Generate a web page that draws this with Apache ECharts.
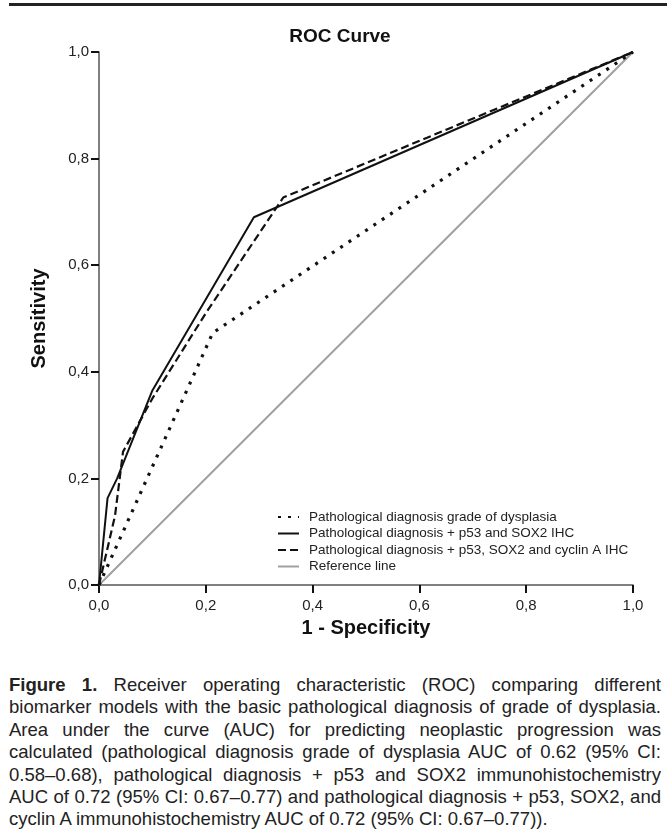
<!DOCTYPE html>
<html>
<head>
<meta charset="utf-8">
<script src="https://cdn.jsdelivr.net/npm/echarts@6/dist/echarts.min.js"></script>
<style>
  html, body { margin: 0; padding: 0; background: #fff; }
  #page { position: relative; width: 667px; height: 834px; overflow: hidden; }
  #rule { position: absolute; left: 9px; right: 0; top: 3px; height: 3px; background: #222; }
  #chart { position: absolute; left: 0; top: 0; width: 667px; height: 660px; }
  #caption {
    position: absolute; left: 9px; top: 674px; width: 652px;
    font-family: 'Liberation Sans', Arial, sans-serif; font-size: 16px; line-height: 22.4px; color: #222;
  }
  #caption div { white-space: nowrap; text-align: left; text-align-last: left; }
  #caption.fitted div { text-align: justify; text-align-last: justify; }
  #caption.fitted div.last { text-align-last: left; }
</style>
</head>
<body>
<div id="page">
  <div id="rule"></div>
  <div id="chart"></div>
  <div id="caption">
    <div><span><b>Figure 1.</b> Receiver operating characteristic (ROC) comparing different</span></div>
    <div><span>biomarker models with the basic pathological diagnosis of grade of dysplasia.</span></div>
    <div><span>Area under the curve (AUC) for predicting neoplastic progression was</span></div>
    <div><span>calculated (pathological diagnosis grade of dysplasia AUC of 0.62 (95% CI:</span></div>
    <div><span>0.58–0.68), pathological diagnosis + p53 and SOX2 immunohistochemistry</span></div>
    <div><span>AUC of 0.72 (95% CI: 0.67–0.77) and pathological diagnosis + p53, SOX2, and</span></div>
    <div class="last"><span>cyclin A immunohistochemistry AUC of 0.72 (95% CI: 0.67–0.77)).</span></div>
  </div>
</div>
<script>
// ROC points (1 - specificity, sensitivity)
const seriesNames = [
  'Pathological diagnosis grade of dysplasia',
  'Pathological diagnosis + p53 and SOX2 IHC',
  'Pathological diagnosis + p53, SOX2 and cyclin A IHC',
  'Reference line'
]
const fprGrade = [0, 0.213, 1]
const tprGrade = [0, 0.473, 1]
const fprSox2 = [0, 0.016, 0.034, 0.1, 0.29, 1]
const tprSox2 = [0, 0.163, 0.2, 0.365, 0.69, 1]
const fprCyclin = [0, 0.03, 0.045, 0.1, 0.2, 0.345, 1]
const tprCyclin = [0, 0.13, 0.25, 0.35, 0.51, 0.727, 1]
const fprRef = [0, 1]
const tprRef = [0, 1]
const axisTicks = [0, 0.2, 0.4, 0.6, 0.8, 1]

const font = "'Liberation Sans', Arial, sans-serif"

// size the caption so its widest line just fills the column, then justify
;(function fitCaption() {
  const box = document.getElementById('caption')
  let widest = 0
  box.querySelectorAll('span').forEach(s => {
    widest = Math.max(widest, s.getBoundingClientRect().width)
  })
  if (widest > 0) box.style.fontSize = (16 * 649 / widest).toFixed(2) + 'px'
  box.classList.add('fitted')
})()

function pairs(xs, ys) {
  return xs.map((x, i) => [x, ys[i]])
}

function tickLabel(v) {
  return v.toFixed(1).replace('.', ',')
}

const axisCommon = {
  type: 'value',
  min: axisTicks[0],
  max: axisTicks[axisTicks.length - 1],
  interval: 0.2,
  nameLocation: 'middle',
  nameTextStyle: { fontFamily: font, fontWeight: 'bold', fontSize: 20, color: '#111' },
  axisLine: { show: true, lineStyle: { color: '#555', width: 1.5 } },
  axisTick: { show: true, length: 8, lineStyle: { color: '#111', width: 2 } },
  axisLabel: { fontFamily: font, fontSize: 15, color: '#222', formatter: tickLabel },
  splitLine: { show: false }
}

const chart = echarts.init(document.getElementById('chart'), null, { renderer: 'canvas' })

chart.setOption({
  animation: false,
  backgroundColor: 'transparent',
  title: {
    text: 'ROC Curve',
    left: 335,
    top: 22,
    textAlign: 'center',
    textStyle: { fontFamily: font, fontWeight: 'bold', fontSize: 19, color: '#111' }
  },
  grid: { left: 99, right: 34, top: 52, bottom: 75 },
  legend: {
    orient: 'vertical',
    left: 277,
    top: 510,
    padding: 0,
    itemWidth: 21,
    itemHeight: 12,
    itemGap: 2.5,
    data: seriesNames,
    itemStyle: { opacity: 0 },
    textStyle: { fontFamily: font, fontSize: 13.5, color: '#222', padding: [0, 0, 0, 5] }
  },
  xAxis: Object.assign({}, axisCommon, {
    name: '1 - Specificity',
    nameGap: 33,
    axisLabel: Object.assign({}, axisCommon.axisLabel, { margin: 13 })
  }),
  yAxis: Object.assign({}, axisCommon, {
    name: 'Sensitivity',
    nameGap: 50,
    axisLabel: Object.assign({}, axisCommon.axisLabel, { margin: 10 })
  }),
  series: [
    {
      name: seriesNames[0],
      type: 'line',
      symbol: 'none',
      data: pairs(fprGrade, tprGrade),
      itemStyle: { color: '#111' },
      lineStyle: { color: '#111', width: 3.2, type: [3, 7] },
      z: 4
    },
    {
      name: seriesNames[1],
      type: 'line',
      symbol: 'none',
      data: pairs(fprSox2, tprSox2),
      itemStyle: { color: '#111' },
      lineStyle: { color: '#111', width: 2 },
      z: 5
    },
    {
      name: seriesNames[2],
      type: 'line',
      symbol: 'none',
      data: pairs(fprCyclin, tprCyclin),
      itemStyle: { color: '#111' },
      lineStyle: { color: '#111', width: 2.2, type: [8, 4] },
      z: 5
    },
    {
      name: seriesNames[3],
      type: 'line',
      symbol: 'none',
      data: pairs(fprRef, tprRef),
      itemStyle: { color: '#a0a0a0' },
      lineStyle: { color: '#a0a0a0', width: 2 },
      z: 3
    }
  ]
})
</script>
</body>
</html>
